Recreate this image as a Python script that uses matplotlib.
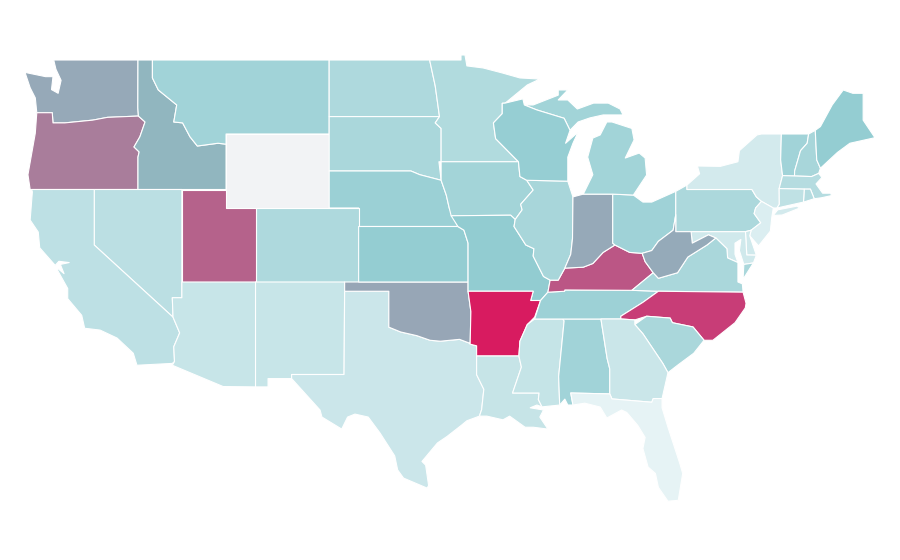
import numpy as np
import matplotlib
matplotlib.use("Agg")
import matplotlib.pyplot as plt
from matplotlib.collections import PolyCollection
from matplotlib.colors import LinearSegmentedColormap

outlines = {
"WA":[[(-124.7,48.33),(-123.3,48.1),(-122.8,48.1),(-122.9,47.4),(-122.45,47.2),(-122.25,47.9),(-122.6,48.5),(-122.75,49.0),(-117.03,49.0),(-117.04,46.42),(-117.0,45.97),(-119.1,45.9),(-120.1,45.75),(-122,45.6),(-122.8,45.6),(-122.85,46.15),(-123.9,46.15),(-124,46.95),(-124.35,47.5)]],
"OR":[[(-123.9,46.15),(-122.85,46.15),(-122.8,45.6),(-122,45.6),(-120.1,45.75),(-119.1,45.9),(-117.0,45.97),(-116.55,45.65),(-116.9,44.85),(-117.3,44.3),(-116.95,44.03),(-117.03,43.75),(-117.03,42.0),(-124.35,42.0),(-124.5,42.8),(-124.0,45.05)]],
"ID":[[(-117.03,49),(-116.05,49),(-116.05,48.03),(-115.65,47.38),(-114.4,46.57),(-114.6,45.65),(-114,45.6),(-113.5,44.85),(-113,44.35),(-111.6,44.5),(-111.05,44.45),(-111.05,42.0),(-117.03,42),(-117.03,43.75),(-116.95,44.03),(-117.3,44.3),(-116.9,44.85),(-116.55,45.65),(-117.0,45.97),(-117.04,46.42)]],
"MT":[[(-116.05,49),(-104.05,49),(-104.05,45),(-111.05,45),(-111.05,44.45),(-111.6,44.5),(-113,44.35),(-113.5,44.85),(-114,45.6),(-114.6,45.65),(-114.4,46.57),(-115.65,47.38),(-116.05,48.03)]],
"WY":[[(-111.05,45),(-104.05,45),(-104.05,41),(-111.05,41)]],
"ND":[[(-104.05,49),(-97.23,49),(-96.85,47.6),(-96.56,45.94),(-104.05,45.94)]],
"SD":[[(-104.05,45.94),(-96.56,45.94),(-96.85,45.6),(-96.45,45.3),(-96.45,43.5),(-96.6,43.5),(-96.45,42.5),(-97.9,42.8),(-98.5,43.0),(-104.05,43)]],
"NE":[[(-104.05,43),(-98.5,43),(-97.9,42.8),(-96.45,42.5),(-96.1,41.7),(-95.9,41.0),(-95.31,40.0),(-102.05,40),(-102.05,41),(-104.05,41)]],
"CO":[[(-109.05,41),(-102.05,41),(-102.05,37),(-109.05,37)]],
"UT":[[(-111.05,42),(-111.05,41),(-109.05,41),(-109.05,37),(-114.05,37),(-114.05,42)]],
"NV":[[(-120,42),(-114.05,42),(-114.05,36.15),(-114.7,36.15),(-114.65,35.1),(-120,39)]],
"CA":[[(-124.25,42),(-120,42),(-120,39),(-114.65,35.1),(-114.2,34.25),(-114.6,33.5),(-114.55,32.7),(-114.7,32.6),(-117.1,32.5),(-117.35,33.15),(-118.45,33.97),(-119.6,34.4),(-120.65,34.5),(-120.85,35.2),(-121.8,36.1),(-121.8,36.65),(-122.5,37.65),(-122.5,37.75),(-122.05,37.45),(-122.3,37.95),(-121.7,38.05),(-122.4,38.12),(-122.65,37.9),(-123.7,38.85),(-123.8,39.7),(-124.35,40.35),(-124.2,41.87)]],
"AZ":[[(-114.05,37),(-109.05,37),(-109.05,31.33),(-111.25,31.35),(-114.7,32.5),(-114.55,32.7),(-114.6,33.5),(-114.2,34.25),(-114.65,35.1),(-114.7,36.15),(-114.05,36.15)]],
"NM":[[(-109.05,37),(-103.0,37),(-103.04,32),(-106.6,32),(-106.6,31.78),(-108.2,31.78),(-108.2,31.33),(-109.05,31.33)]],
"TX":[[(-103.0,36.5),(-100,36.5),(-100,34.56),(-99.2,34.3),(-98.1,34.1),(-97.2,33.85),(-96.5,33.8),(-95.2,33.9),(-94.04,33.55),(-94.04,33.0),(-94.04,31.99),(-93.55,31.2),(-93.7,30.1),(-93.85,29.75),(-94.7,29.5),(-95.05,29.27),(-96.05,28.65),(-96.7,28.3),(-97.75,27.3),(-97.5,27.1),(-97.3,26.0),(-97.4,25.86),(-99.0,26.4),(-99.4,26.84),(-99.6,27.6),(-100.6,28.84),(-101.4,29.7),(-102.3,29.86),(-102.8,29.7),(-103.2,29.05),(-104.54,29.7),(-104.67,30.08),(-106.6,31.78),(-106.6,32),(-103.04,32)]],
"OK":[[(-103,37),(-94.62,37),(-94.62,36.5),(-94.43,35.4),(-94.48,33.64),(-94.04,33.55),(-95.2,33.9),(-96.5,33.8),(-97.2,33.85),(-98.1,34.1),(-99.2,34.3),(-100,34.56),(-100,36.5),(-103,36.5)]],
"KS":[[(-102.05,40),(-95.31,40),(-94.9,39.8),(-94.62,39.1),(-94.62,37),(-102.05,37)]],
"MN":[[(-97.23,49),(-95.1,49),(-95.1,49.27),(-94.83,49.27),(-94.7,48.68),(-93.6,48.57),(-92.3,48.3),(-91.1,48.03),(-89.75,47.97),(-90.6,47.65),(-92.1,46.67),(-92.3,46.66),(-92.3,46.1),(-92.9,45.6),(-92.75,44.75),(-91.2,43.5),(-96.45,43.5),(-96.45,45.3),(-96.85,45.6),(-96.56,45.94),(-96.85,47.6)]],
"IA":[[(-96.45,43.5),(-91.2,43.5),(-91.1,42.7),(-90.64,42.5),(-90.2,41.97),(-91.05,41.2),(-90.95,40.9),(-91.42,40.38),(-91.73,40.61),(-95.77,40.58),(-95.9,41.0),(-96.1,41.7),(-96.45,42.5)]],
"MO":[[(-95.77,40.58),(-91.73,40.61),(-91.42,40.38),(-91.5,40.0),(-90.7,39.0),(-90.15,38.8),(-90.2,38.4),(-89.5,37.3),(-89.05,37.1),(-89.2,36.45),(-89.7,36.0),(-90.37,36.0),(-90.2,36.5),(-94.62,36.5),(-94.62,37),(-94.62,39.1),(-94.9,39.8),(-95.31,40)]],
"AR":[[(-94.62,36.5),(-90.2,36.5),(-90.37,36.0),(-89.7,36.0),(-90.1,35.1),(-90.6,34.7),(-91.1,33.8),(-91.17,33.0),(-94.04,33.0),(-94.04,33.55),(-94.48,33.64),(-94.43,35.4)]],
"LA":[[(-94.04,33),(-91.17,33),(-91.0,32.4),(-91.6,31.0),(-89.8,31.0),(-89.85,30.65),(-89.6,30.25),(-89.95,30.35),(-90.4,30.2),(-89.5,30.08),(-89.75,29.7),(-89.2,29.05),(-90.2,29.15),(-90.75,29.15),(-91.8,29.75),(-92.25,29.55),(-93.35,29.75),(-93.85,29.75),(-93.7,30.1),(-93.55,31.2),(-94.04,31.99)]],
"MS":[[(-91.17,33),(-91.1,33.8),(-90.6,34.7),(-90.1,35.0),(-88.2,35.0),(-88.1,34.9),(-88.47,31.9),(-88.4,30.35),(-89.6,30.25),(-89.85,30.65),(-89.8,31.0),(-91.6,31.0),(-91.0,32.4)]],
"AL":[[(-88.2,35),(-85.6,35),(-85.18,32.87),(-85.0,32.3),(-85.0,30.95),(-87.65,31.0),(-87.5,30.35),(-87.85,30.35),(-88.05,30.67),(-88.4,30.35),(-88.47,31.9),(-88.1,34.9)]],
"TN":[[(-90.1,35),(-89.7,36),(-89.2,36.45),(-88.07,36.5),(-88.05,36.57),(-83.5,36.55),(-81.7,36.5),(-82.75,35.9),(-84.25,35.15),(-84.25,35.0),(-88.2,35)]],
"KY":[[(-89.2,36.45),(-89.05,37.1),(-88.5,37.1),(-88.05,37.75),(-86.8,37.8),(-86.15,38),(-85.45,38.6),(-84.65,39),(-83.65,38.6),(-82.8,38.55),(-82.6,38.1),(-82.05,37.5),(-83.5,36.55),(-88.05,36.57),(-88.07,36.5)]],
"IL":[[(-90.64,42.5),(-87.85,42.45),(-87.5,41.6),(-87.53,39.35),(-87.65,38.5),(-88.05,37.75),(-88.5,37.1),(-89.05,37.1),(-89.5,37.3),(-90.2,38.4),(-90.15,38.8),(-90.7,39),(-91.5,40),(-91.42,40.38),(-90.95,40.9),(-91.05,41.2),(-90.2,41.97)]],
"IN":[[(-87.5,41.6),(-86.8,41.75),(-84.8,41.75),(-84.8,39.1),(-84.65,39),(-85.45,38.6),(-86.15,38),(-86.8,37.8),(-88.05,37.75),(-87.65,38.5),(-87.53,39.35)]],
"OH":[[(-84.8,41.75),(-83.4,41.7),(-82.75,41.32),(-82.15,41.32),(-80.52,41.9),(-80.52,40.64),(-80.7,39.8),(-81.7,39.2),(-82.15,38.7),(-82.8,38.55),(-83.65,38.6),(-84.65,39),(-84.8,39.1)]],
"MI":[[(-86.8,41.75),(-84.8,41.75),(-83.4,41.7),(-82.5,42.78),(-82.6,43.7),(-83.0,43.97),(-83.95,43.7),(-83.35,44.68),(-83.5,45.3),(-84.85,45.65),(-85.2,45.65),(-85.65,44.95),(-86.15,44.78),(-86.5,43.75),(-86.15,42.8)],
      [(-90.8,46.57),(-90.2,46.57),(-88.5,47.1),(-88.5,47.38),(-87.85,47.38),(-88.5,46.84),(-87.85,46.84),(-87.2,46.35),(-86.1,46.67),(-85.1,46.67),(-84.3,46.35),(-84.1,46.03),(-85.45,46.03),(-86.35,45.87),(-87.15,45.65),(-87.7,45.2),(-88.1,45.85),(-89.95,46.3)]],
"WI":[[(-92.3,46.66),(-92.1,46.67),(-90.9,46.9),(-90.8,46.57),(-89.95,46.3),(-88.1,45.85),(-87.7,45.2),(-88.0,44.5),(-87.15,45.1),(-87.5,44.5),(-87.85,43.75),(-87.85,42.45),(-90.64,42.5),(-91.1,42.7),(-91.2,43.5),(-92.75,44.75),(-92.9,45.6),(-92.3,46.1)]],
"PA":[[(-80.52,41.9),(-79.76,42.24),(-79.76,42.0),(-75.35,42.0),(-75.05,41.6),(-74.7,41.36),(-75.1,41.0),(-75.2,40.7),(-74.75,40.2),(-75.4,39.8),(-75.79,39.72),(-80.52,39.72),(-80.52,40.64)]],
"NY":[[(-79.76,42.24),(-78.9,42.85),(-79.05,43.27),(-77.5,43.25),(-76.3,43.5),(-76.2,44.1),(-75.0,44.95),(-74.7,45.0),(-73.35,45.0),(-73.4,43.6),(-73.27,42.75),(-73.5,42.05),(-73.49,41.2),(-73.65,41.0),(-73.9,41.0),(-74.7,41.36),(-75.05,41.6),(-75.35,42),(-79.76,42)],
      [(-73.9,40.6),(-73.6,40.9),(-72.3,41.1),(-72.1,41.0),(-73.3,40.62)]],
"NJ":[[(-74.7,41.36),(-73.9,41.0),(-74.0,40.5),(-74.1,39.75),(-74.9,38.95),(-75.5,39.5),(-75.4,39.8),(-74.75,40.2),(-75.2,40.7),(-75.1,41.0)]],
"DE":[[(-75.79,39.72),(-75.4,39.8),(-75.5,39.5),(-75.05,38.45),(-75.7,38.46)]],
"MD":[[(-79.48,39.72),(-75.79,39.72),(-75.7,38.46),(-75.05,38.45),(-75.25,38.03),(-75.9,37.95),(-76.2,38.7),(-76.1,39.3),(-76.5,39.1),(-76.5,38.5),(-76.3,38.05),(-77.0,38.3),(-77.05,38.8),(-77.8,39.38),(-78.3,39.55),(-79.4,39.1)]],
"VA":[[(-83.5,36.55),(-81.7,36.5),(-75.95,36.45),(-76.0,36.9),(-76.3,37.0),(-76.3,38.05),(-77.0,38.3),(-77.05,38.8),(-77.8,39.38),(-78.4,39),(-79.7,38.35),(-80.4,37.5),(-81.7,37.2),(-82.05,37.5)],
      [(-75.25,38.03),(-75.9,37.95),(-75.95,37.15)]],
"WV":[[(-82.6,38.1),(-82.8,38.55),(-82.15,38.7),(-81.7,39.2),(-80.7,39.8),(-80.52,40.64),(-80.52,39.72),(-79.48,39.72),(-79.4,39.1),(-78.3,39.55),(-77.8,39.38),(-78.4,39),(-79.7,38.35),(-80.4,37.5),(-81.7,37.2),(-82.05,37.5)]],
"NC":[[(-84.25,35),(-84.25,35.15),(-82.75,35.9),(-81.7,36.5),(-75.95,36.45),(-75.75,35.85),(-75.8,35.6),(-76.5,34.8),(-78,33.85),(-78.6,33.85),(-79.35,34.57),(-80.75,34.8),(-80.9,35.05),(-82.5,35.15),(-83.3,34.95)]],
"SC":[[(-83.3,34.7),(-82.5,35.15),(-80.9,35.05),(-80.75,34.8),(-79.35,34.57),(-78.6,33.85),(-79.3,33.15),(-80.4,32.5),(-81.05,32.1),(-81.4,32.6),(-82.75,34.2)]],
"GA":[[(-85.6,35),(-84.25,35),(-83.3,34.95),(-83.3,34.7),(-82.75,34.2),(-81.4,32.6),(-81.05,32.1),(-81.45,30.7),(-82.05,30.7),(-82.15,30.5),(-84.85,30.68),(-85.0,30.95),(-85,32.3),(-85.18,32.87)]],
"FL":[[(-87.65,31),(-85,30.95),(-84.85,30.68),(-82.15,30.5),(-82.05,30.7),(-81.45,30.7),(-81.45,30.2),(-81.05,29.15),(-80.25,27.2),(-80.05,26.65),(-80.35,25.2),(-81.05,25.15),(-81.7,25.9),(-81.9,26.65),(-82.4,27),(-82.75,28.0),(-82.6,28.6),(-83.1,29.25),(-83.85,29.95),(-84.2,30.08),(-85.2,29.65),(-85.65,30.24),(-86.7,30.45),(-87.5,30.35)]],
"VT":[[(-73.35,45),(-71.5,45),(-71.6,44.5),(-72.05,44.1),(-72.45,43.0),(-72.46,42.73),(-73.27,42.75),(-73.4,43.6)]],
"NH":[[(-71.5,45),(-71.05,45.2),(-70.95,43.6),(-70.7,43.15),(-70.82,42.87),(-71.3,42.7),(-72.46,42.73),(-72.45,43),(-72.05,44.1),(-71.6,44.5)]],
"ME":[[(-71.05,45.2),(-70.7,45.4),(-69.9,46.57),(-69.15,47.38),(-68.5,47.2),(-67.8,47.2),(-67.8,45.75),(-67,44.8),(-68.7,44.5),(-69.55,44),(-70.7,43.15),(-70.95,43.6)]],
"MA":[[(-73.5,42.05),(-73.27,42.75),(-72.46,42.73),(-71.3,42.7),(-70.82,42.87),(-70.6,42.65),(-71.0,42.3),(-70.55,41.8),(-70.0,41.8),(-69.95,41.67),(-70.65,41.55),(-71.12,41.5),(-71.38,42.02),(-71.8,42.02)]],
"RI":[[(-71.8,42.02),(-71.38,42.02),(-71.12,41.5),(-71.85,41.32)]],
"CT":[[(-73.5,42.05),(-71.8,42.02),(-71.85,41.32),(-73.65,41.0),(-73.49,41.2)]],
}

values = {
"WA":.52,"OR":.67,"ID":.47,"MT":.33,"WY":np.nan,"ND":.27,"SD":.29,"NE":.36,"CO":.27,"UT":.76,
"NV":.21,"CA":.20,"AZ":.155,"NM":.155,"TX":.135,"OK":.53,"KS":.39,"MN":.255,"IA":.32,"MO":.40,
"AR":1.0,"LA":.16,"MS":.165,"AL":.33,"TN":.35,"KY":.80,"IL":.30,"IN":.52,"OH":.34,"MI":.325,
"WI":.38,"PA":.28,"NY":.10,"NJ":.06,"DE":.11,"MD":.11,"VA":.29,"WV":.515,"NC":.885,"SC":.29,
"GA":.14,"FL":.01,"VT":.33,"NH":.30,"ME":.39,"MA":.24,"RI":.24,"CT":.19,
}

color_stops = [(0.0,"#e8f4f6"),(0.4,"#92ccd1"),(0.47,"#91b6bf"),(0.52,"#96a9b8"),
               (0.67,"#a97d9b"),(0.76,"#b5628b"),(0.885,"#c83d77"),(1.0,"#d81b60")]
no_data = "#f2f3f5"

cmap = LinearSegmentedColormap.from_list("rate", color_stops, N=512)
cmap.set_bad(no_data)

polys, vals = [], []
for st, parts in outlines.items():
    for part in parts:
        polys.append(np.array(part, dtype=float))
        vals.append(values[st])

fig = plt.figure(figsize=(9,5.6), dpi=100)
ax = fig.add_axes([0,0,1,1])
pc = PolyCollection(polys, array=np.ma.masked_invalid(vals), cmap=cmap,
                    norm=plt.Normalize(0,1), edgecolors="white", linewidths=0.8)
ax.add_collection(pc)
sx, sy = 14.73, 18.5
x0 = -124.7-25/sx
ytop = 49+60/sy
ax.set_xlim(x0, x0+900/sx)
ax.set_ylim(ytop-560/sy, ytop)
ax.axis("off")
fig.savefig("out.png", dpi=100, facecolor="white")
